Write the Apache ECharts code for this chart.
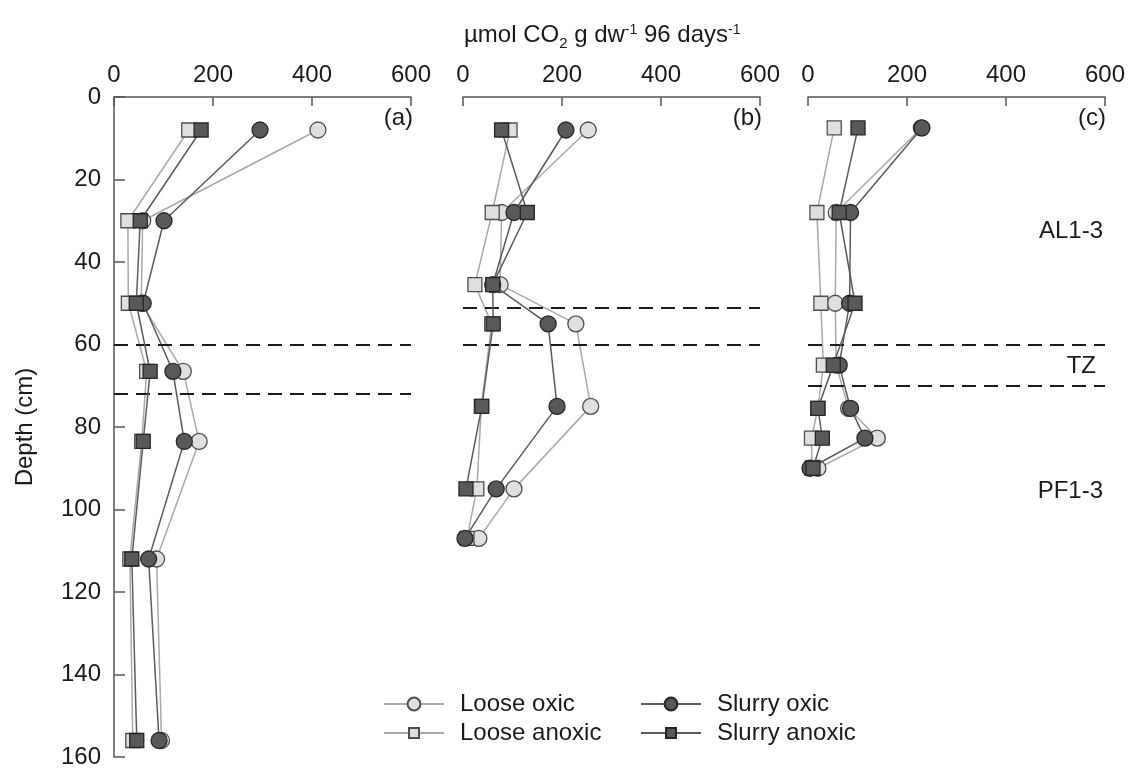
<!DOCTYPE html>
<html>
<head>
<meta charset="utf-8">
<script src="https://cdn.jsdelivr.net/npm/echarts@6/dist/echarts.min.js"></script>
<style>
html,body{margin:0;padding:0;background:#fff;}
#chart{width:1138px;height:773px;}
</style>
</head>
<body>
<div id="chart"></div>
<script>
// ---------- data ----------
const xTicks = [0, 200, 400, 600];
const depthTicks = [0, 20, 40, 60, 80, 100, 120, 140, 160];
const seriesNames = ['Loose oxic', 'Loose anoxic', 'Slurry oxic', 'Slurry anoxic'];

// Panel (a)
const depthA = [8, 30, 50, 66.5, 83.5, 112, 156];
const looseOxicA    = [412, 58, 55, 140, 172, 86, 96];
const looseAnoxicA  = [151, 28, 29, 66, 56, 32, 38];
const slurryOxicA   = [295, 101, 59, 119, 142, 70, 91];
const slurryAnoxicA = [176, 53, 45, 73, 59, 36, 46];
const boundsA = [60, 72];

// Panel (b)
const depthB = [8, 28, 45.5, 55, 75, 95, 107];
const looseOxicB    = [253, 78, 75, 228, 258, 103, 32];
const looseAnoxicB  = [95, 59, 24, 58, 37, 28, 8];
const slurryOxicB   = [208, 103, 60, 172, 190, 67, 4];
const slurryAnoxicB = [78, 130, 60, 61, 38, 6];
const boundsB = [51, 60];

// Panel (c)
const depthC = [7.5, 28, 50, 65, 75.5, 82.7, 90];
const looseOxicC    = [229, 57, 55, 57, 82, 140, 20];
const looseAnoxicC  = [53, 18, 26, 31, 20, 7, 8];
const slurryOxicC   = [230, 86, 84, 63, 86, 115, 4];
const slurryAnoxicC = [101, 63, 95, 51, 20, 29, 10];
const boundsC = [60, 70];

const zoneLabels = ['AL1-3', 'TZ', 'PF1-3'];
const panelLabels = ['(a)', '(b)', '(c)'];

// ---------- styles ----------
const FONT = 'Liberation Sans, Arial, sans-serif';
const TXT = '#1a1a1a';
const styles = {
  'Loose oxic':    {symbol: 'circle', size: 16, fill: '#dfdfdf', border: '#4d4d4d', line: '#a8a8a8'},
  'Loose anoxic':  {symbol: 'rect',   size: 14, fill: '#dfdfdf', border: '#4d4d4d', line: '#a8a8a8'},
  'Slurry oxic':   {symbol: 'circle', size: 16, fill: '#595959', border: '#262626', line: '#5a5a5a'},
  'Slurry anoxic': {symbol: 'rect',   size: 14, fill: '#595959', border: '#262626', line: '#5a5a5a'}
};

const panels = [
  {depth: depthA, vals: [looseOxicA, looseAnoxicA, slurryOxicA, slurryAnoxicA], bounds: boundsA, left: 114},
  {depth: depthB, vals: [looseOxicB, looseAnoxicB, slurryOxicB, slurryAnoxicB], bounds: boundsB, left: 463},
  {depth: depthC, vals: [looseOxicC, looseAnoxicC, slurryOxicC, slurryAnoxicC], bounds: boundsC, left: 808}
];
const GRID_TOP = 97, GRID_H = 660, GRID_W = 297;

const grids = [], xAxes = [], yAxes = [], series = [];
panels.forEach((p, i) => {
  grids.push({left: p.left, top: GRID_TOP, width: GRID_W, height: GRID_H, containLabel: false});
  xAxes.push({
    type: 'value', gridIndex: i, position: 'top', min: 0, max: 600, interval: 200,
    axisLine: {show: true, lineStyle: {color: '#555', width: 1.5}},
    axisTick: {show: true, inside: true, length: 9, lineStyle: {color: '#555', width: 1.5}},
    axisLabel: {show: true, fontSize: 24, fontFamily: FONT, color: TXT, margin: 10,
                formatter: v => xTicks.includes(v) ? String(v) : ''},
    splitLine: {show: false}
  });
  yAxes.push({
    type: 'value', gridIndex: i, inverse: true, min: 0, max: 160, interval: 20,
    show: i === 0,
    name: i === 0 ? 'Depth (cm)' : '', nameLocation: 'middle', nameGap: 77,
    nameTextStyle: {fontSize: 24, fontFamily: FONT, color: TXT},
    axisLine: {show: true, lineStyle: {color: '#555', width: 1.5}},
    axisTick: {show: true, inside: true, length: 11, lineStyle: {color: '#555', width: 1.5}},
    axisLabel: {fontSize: 24, fontFamily: FONT, color: TXT, margin: 13,
                formatter: v => depthTicks.includes(v) ? String(v) : ''},
    splitLine: {show: false}
  });
  seriesNames.forEach((name, k) => {
    const st = styles[name];
    const vals = p.vals[k];
    const data = vals.map((v, j) => [v, p.depth[j]]);
    const s = {
      type: 'line', name: name, xAxisIndex: i, yAxisIndex: i, data: data,
      symbol: st.symbol, symbolSize: st.size, showSymbol: true,
      lineStyle: {color: st.line, width: 1.5},
      itemStyle: {color: st.fill, borderColor: st.border, borderWidth: 1.3},
      z: 2 + k,
      emphasis: {disabled: true},
      animation: false
    };
    if (k === 0) {
      s.markLine = {
        silent: true, symbol: 'none', animation: false,
        label: {show: false},
        lineStyle: {color: '#1a1a1a', type: [14, 8], width: 2},
        data: p.bounds.map(b => ({yAxis: b}))
      };
    }
    series.push(s);
  });
});

// legends: one component per entry, laid out in two columns
const legendPos = [
  {name: 'Loose oxic', left: 383, top: 692, h: 16},
  {name: 'Slurry oxic', left: 640, top: 692, h: 16},
  {name: 'Loose anoxic', left: 383, top: 721, h: 12.5},
  {name: 'Slurry anoxic', left: 640, top: 721, h: 12.5}
];
const legends = legendPos.map(l => ({
  data: [l.name], left: l.left, top: l.top, itemWidth: 60, itemHeight: l.h,
  selectedMode: false, padding: 0,
  textStyle: {fontSize: 24, fontFamily: FONT, color: TXT, padding: [0, 0, 0, 11]}
}));

const textEl = (t, x, y, align) => ({
  type: 'text', x: x, y: y, silent: true,
  style: {text: t, font: '24px ' + FONT, fill: TXT, textAlign: align, textVerticalAlign: 'middle',
          align: align, verticalAlign: 'middle'}
});

const option = {
  animation: false,
  backgroundColor: '#ffffff',
  title: {
    text: '{a|µmol CO}{b|2}{a| g dw}{c|-1}{a| 96 days}{c|-1}',
    left: 459, top: 14,
    textStyle: {
      fontWeight: 'normal',
      rich: {
        a: {fontSize: 24, fontWeight: 'normal', fontFamily: FONT, color: TXT, lineHeight: 32, verticalAlign: 'middle'},
        b: {fontSize: 15, fontWeight: 'normal', fontFamily: FONT, color: TXT, lineHeight: 32, verticalAlign: 'bottom'},
        c: {fontSize: 14, fontWeight: 'normal', fontFamily: FONT, color: TXT, lineHeight: 32, verticalAlign: 'top', padding: [4, 0, 0, 0]}
      }
    }
  },
  grid: grids, xAxis: xAxes, yAxis: yAxes, series: series,
  legend: legends,
  graphic: [
    textEl(panelLabels[0], 413, 118, 'right'),
    textEl(panelLabels[1], 762, 118, 'right'),
    textEl(panelLabels[2], 1106, 118, 'right'),
    textEl(zoneLabels[0], 1103, 231, 'right'),
    textEl(zoneLabels[1], 1096, 366, 'right'),
    textEl(zoneLabels[2], 1103, 491, 'right')
  ]
};

const chart = echarts.init(document.getElementById('chart'), null, {renderer: 'canvas'});
chart.setOption(option);
</script>
</body>
</html>
